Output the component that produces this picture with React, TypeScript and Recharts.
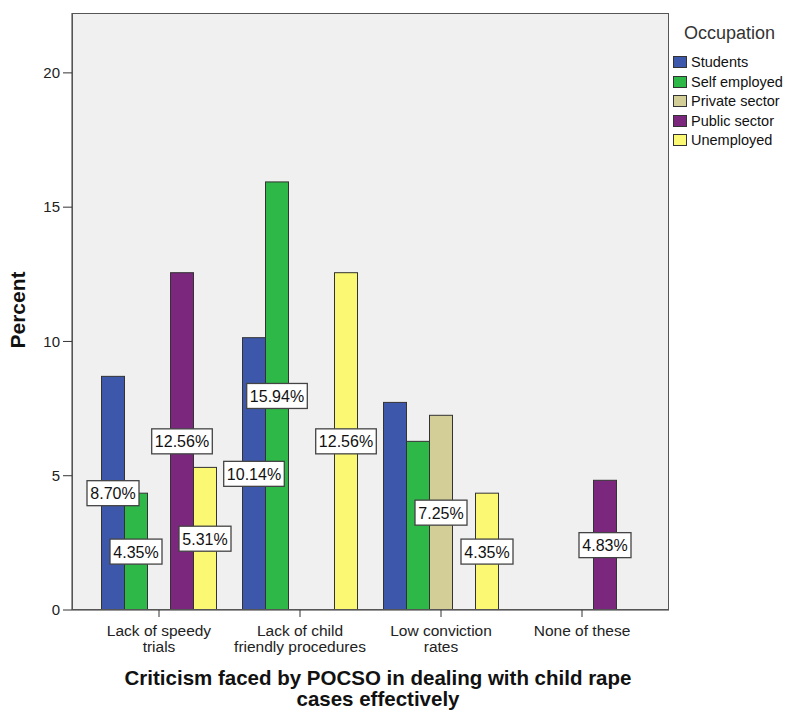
import React from 'react';
import { BarChart, Bar, XAxis, YAxis, CartesianGrid, LabelList } from 'recharts';

const categories = [
  'Lack of speedy trials',
  'Lack of child friendly procedures',
  'Low conviction rates',
  'None of these',
];
const tickLines = [
  ['Lack of speedy', 'trials'],
  ['Lack of child', 'friendly procedures'],
  ['Low conviction', 'rates'],
  ['None of these'],
];

const students = [8.7, 10.14, 7.73, null];
const selfEmployed = [4.35, 15.94, 6.28, null];
const privateSector = [null, null, 7.25, null];
const publicSector = [12.56, null, null, 4.83];
const unemployed = [5.31, 12.56, 4.35, null];

const yTicks = [0, 5, 10, 15, 20];

// SPSS hid these two labels
const hiddenLabels = ['Low conviction rates|Students', 'Low conviction rates|Self employed'];

const series = [
  { key: 'students', name: 'Students', color: '#3D58AB' },
  { key: 'selfEmployed', name: 'Self employed', color: '#2EB848' },
  { key: 'privateSector', name: 'Private sector', color: '#D3CE97' },
  { key: 'publicSector', name: 'Public sector', color: '#7B277D' },
  { key: 'unemployed', name: 'Unemployed', color: '#FBF873' },
];

const data = categories.map((name, i) => ({
  name,
  students: students[i],
  selfEmployed: selfEmployed[i],
  privateSector: privateSector[i],
  publicSector: publicSector[i],
  unemployed: unemployed[i],
}));

const font = 'Arial, "Liberation Sans", sans-serif';

const BarShape = (props: any) => {
  const { x, y, width, height, fill } = props;
  if (!height || height <= 0) return null;
  return <rect x={x} y={y} width={width} height={height} fill={fill} stroke="#333" strokeWidth={1} />;
};

const makeLabel = (seriesName: string) => (props: any) => {
  const { x, y, width, height, value, index } = props;
  if (value == null || !height || height <= 0) return null;
  if (hiddenLabels.includes(categories[index] + '|' + seriesName)) return null;
  const text = Number(value).toFixed(2) + '%';
  const w = text.length * 8.6 + 9;
  const h = 25;
  const cx = x + width / 2;
  const cy = y + height / 2;
  return (
    <g>
      <rect x={cx - w / 2} y={cy - h / 2} width={w} height={h} fill="#fff" stroke="#444" strokeWidth={1.3} />
      <text x={cx} y={cy + 6} textAnchor="middle" fontSize={16} fontFamily={font} fill="#111">
        {text}
      </text>
    </g>
  );
};

const XTick = (props: any) => {
  const { x, y, index } = props;
  const lines = tickLines[index] || [];
  return (
    <text x={x} y={y} textAnchor="middle" fontSize={15.5} fontFamily={font} fill="#222">
      {lines.map((l, i) => (
        <tspan key={i} x={x} y={y + 17 + i * 15.5}>
          {l}
        </tspan>
      ))}
    </text>
  );
};

export default function App() {
  return (
    <div style={{ position: 'relative', width: 792, height: 714, background: '#fff', fontFamily: font }}>
      <style>{'body { margin: 0; }'}</style>
      <BarChart
        width={792}
        height={714}
        data={data}
        margin={{ top: 13, right: 123, bottom: 44, left: 12 }}
        barSize={23}
        barGap={0}
      >
        <CartesianGrid fill="#F0F0F0" horizontal={false} vertical={false} />
        <XAxis
          dataKey="name"
          height={60}
          padding={{ left: 16.5, right: 16.5 }}
          tickSize={7}
          tickMargin={2}
          stroke="#333"
          tick={<XTick />}
          interval={0}
        />
        <YAxis
          width={60}
          domain={[0, 22.23]}
          ticks={yTicks}
          allowDataOverflow
          tickSize={9}
          tickMargin={3}
          stroke="#333"
          tick={{ fontSize: 15, fill: '#222', fontFamily: font }}
        />
        {series.map((s) => (
          <Bar key={s.key} dataKey={s.key} name={s.name} fill={s.color} shape={<BarShape />} isAnimationActive={false}>
            <LabelList dataKey={s.key} content={makeLabel(s.name)} />
          </Bar>
        ))}
      </BarChart>

      {/* plot frame */}
      <div style={{ position: 'absolute', left: 72, top: 13, width: 597, height: 597, border: '1px solid #555', boxSizing: 'border-box', pointerEvents: 'none' }} />

      {/* axis titles */}
      <div style={{ position: 'absolute', left: -82, top: 298, width: 200, textAlign: 'center', transform: 'rotate(-90deg)', fontWeight: 'bold', fontSize: 21, lineHeight: '24px', color: '#111' }}>
        Percent
      </div>
      <div style={{ position: 'absolute', left: 28, top: 667, width: 700, textAlign: 'center', fontWeight: 'bold', fontSize: 20.5, lineHeight: '21px', color: '#111' }}>
        Criticism faced by POCSO in dealing with child rape
        <br />
        cases effectively
      </div>

      {/* legend */}
      <div style={{ position: 'absolute', left: 684, top: 22, fontSize: 18, lineHeight: '22px', color: '#333', whiteSpace: 'nowrap' }}>Occupation</div>
      {series.map((s, i) => (
        <div key={s.key} style={{ position: 'absolute', left: 673, top: 53 + i * 19.6, width: 119, height: 18, display: 'flex', alignItems: 'center', whiteSpace: 'nowrap' }}>
          <div style={{ width: 14, height: 12, flexShrink: 0, background: s.color, border: '1px solid #333', boxSizing: 'border-box', marginRight: 4 }} />
          <span style={{ fontSize: 14.5, color: '#111', lineHeight: '18px' }}>{s.name}</span>
        </div>
      ))}
    </div>
  );
}
